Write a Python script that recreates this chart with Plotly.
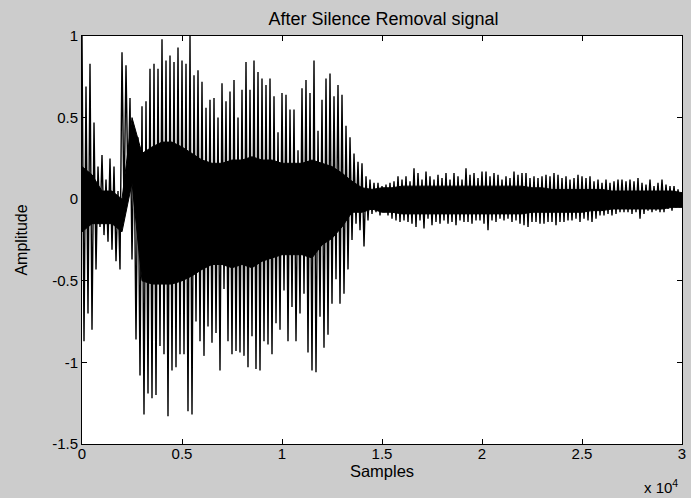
import plotly.graph_objects as go

# Peak amplitudes, one pair per 200-sample block
block_size = 200
upper_peaks = [
    1.00, 0.69, 0.83, 0.47, 0.20, 0.27, 0.12, 0.25, 0.20, 0.05,
    0.90, 0.82, 0.62, 0.40, 0.38, 0.57, 0.60, 0.80, 0.83, 0.80,
    0.98, 0.85, 0.88, 0.84, 0.93, 0.85, 0.83, 1.00, 0.76, 0.79,
    0.72, 0.56, 0.61, 0.62, 0.50, 0.71, 0.60, 0.66, 0.73, 0.50,
    0.67, 0.84, 0.67, 0.85, 0.78, 0.74, 0.70, 0.74, 0.63, 0.41,
    0.65, 0.64, 0.55, 0.55, 0.30, 0.68, 0.73, 0.65, 0.85, 0.42,
    0.61, 0.74, 0.77, 0.63, 0.70, 0.64, 0.45, 0.38, 0.28, 0.23,
    0.22, 0.14, 0.12, 0.10, 0.10, 0.08, 0.09, 0.10, 0.11, 0.14,
    0.12, 0.14, 0.11, 0.19, 0.16, 0.12, 0.17, 0.14, 0.12, 0.15,
    0.13, 0.16, 0.12, 0.16, 0.14, 0.12, 0.19, 0.15, 0.16, 0.13,
    0.17, 0.17, 0.14, 0.16, 0.15, 0.12, 0.14, 0.13, 0.17, 0.15,
    0.16, 0.16, 0.13, 0.14, 0.13, 0.14, 0.15, 0.14, 0.16, 0.15,
    0.13, 0.14, 0.12, 0.13, 0.15, 0.14, 0.13, 0.14, 0.11, 0.12,
    0.10, 0.12, 0.10, 0.11, 0.12, 0.12, 0.11, 0.12, 0.11, 0.13,
    0.10, 0.09, 0.12, 0.08, 0.10, 0.12, 0.09, 0.08, 0.08, 0.06,
]
lower_peaks = [
    -0.87, -0.70, -0.80, -0.43, -0.17, -0.22, -0.26, -0.31, -0.38, -0.43,
    -0.05, 0.05, -0.37, -0.86, -1.08, -1.32, -1.19, -1.22, -1.20, -0.90,
    -0.95, -1.33, -1.05, -1.03, -0.95, -0.95, -1.30, -1.32, -0.75, -0.87,
    -0.96, -0.78, -0.88, -0.82, -1.05, -0.55, -0.87, -0.95, -0.93, -0.94,
    -0.96, -1.03, -0.84, -1.04, -1.05, -0.87, -0.89, -0.95, -0.76, -0.80,
    -0.56, -0.87, -0.66, -0.87, -0.70, -0.58, -0.94, -1.05, -1.06, -0.72,
    -0.91, -0.83, -0.64, -0.49, -0.64, -0.58, -0.43, -0.25, -0.15, -0.19,
    -0.29, -0.13, -0.09, -0.08, -0.10, -0.08, -0.10, -0.12, -0.13, -0.14,
    -0.13, -0.14, -0.15, -0.17, -0.13, -0.18, -0.12, -0.16, -0.14, -0.15,
    -0.13, -0.15, -0.14, -0.16, -0.13, -0.14, -0.14, -0.15, -0.13, -0.13,
    -0.15, -0.19, -0.13, -0.14, -0.12, -0.13, -0.12, -0.14, -0.13, -0.15,
    -0.16, -0.17, -0.14, -0.14, -0.15, -0.15, -0.14, -0.14, -0.16, -0.14,
    -0.14, -0.13, -0.13, -0.12, -0.14, -0.12, -0.13, -0.14, -0.12, -0.10,
    -0.10, -0.09, -0.10, -0.09, -0.08, -0.08, -0.08, -0.09, -0.08, -0.12,
    -0.09, -0.07, -0.08, -0.07, -0.08, -0.08, -0.06, -0.07, -0.05, -0.05,
]

# Solid core of the waveform (dense black band), one pair per 500 samples
core_step = 500
core_upper = [
    0.20, 0.15, 0.05, 0.05, 0.00, 0.50, 0.28, 0.32, 0.35, 0.35,
    0.32, 0.28, 0.24, 0.22, 0.22, 0.24, 0.24, 0.26, 0.24, 0.24,
    0.22, 0.22, 0.22, 0.24, 0.22, 0.20, 0.16, 0.11, 0.07, 0.06,
    0.07, 0.07, 0.08, 0.08, 0.08, 0.08, 0.08, 0.08, 0.08, 0.08,
    0.08, 0.08, 0.08, 0.08, 0.08, 0.07, 0.07, 0.06, 0.06, 0.06,
    0.06, 0.06, 0.06, 0.05, 0.05, 0.05, 0.05, 0.05, 0.05, 0.05,
    0.04,
]
core_lower = [
    -0.20, -0.15, -0.15, -0.15, -0.20, 0.10, -0.50, -0.52, -0.52, -0.52,
    -0.50, -0.47, -0.43, -0.40, -0.40, -0.42, -0.40, -0.42, -0.38, -0.36,
    -0.34, -0.34, -0.34, -0.36, -0.28, -0.24, -0.17, -0.08, -0.08, -0.06,
    -0.08, -0.08, -0.09, -0.09, -0.09, -0.09, -0.09, -0.09, -0.09, -0.09,
    -0.09, -0.09, -0.09, -0.09, -0.09, -0.08, -0.08, -0.08, -0.08, -0.08,
    -0.08, -0.07, -0.07, -0.06, -0.06, -0.06, -0.06, -0.06, -0.06, -0.05,
    -0.05,
]

x_tick_vals = [0, 5000, 10000, 15000, 20000, 25000, 30000]
x_tick_text = ["0", "0.5", "1", "1.5", "2", "2.5", "3"]
y_tick_vals = [-1.5, -1, -0.5, 0, 0.5, 1]
y_tick_text = ["-1.5", "-1", "-0.5", "0", "0.5", "1"]

# Waveform as alternating upper/lower peaks
xs, ys = [], []
for i, (u, l) in enumerate(zip(upper_peaks, lower_peaks)):
    xs += [i * block_size, i * block_size + block_size / 2]
    ys += [u, l]

core_x = [i * core_step for i in range(len(core_upper))]

fig = go.Figure()
fig.add_trace(go.Scatter(x=core_x + core_x[::-1], y=core_upper + core_lower[::-1],
                         mode="lines", fill="toself", fillcolor="black",
                         line=dict(color="black", width=1),
                         showlegend=False, hoverinfo="skip"))
fig.add_trace(go.Scatter(x=xs, y=ys, mode="lines",
                         line=dict(color="black", width=1.4),
                         showlegend=False, hoverinfo="skip"))

font = "Liberation Sans, Arial, sans-serif"
axis_common = dict(showgrid=False, zeroline=False, showline=True,
                   linecolor="black", linewidth=1, mirror="allticks",
                   ticks="inside", ticklen=5, tickcolor="black",
                   ticklabeloverflow="allow",
                   tickfont=dict(family=font, size=15, color="black"))

fig.update_layout(
    width=691, height=498,
    paper_bgcolor="#cccccc", plot_bgcolor="white",
    margin=dict(l=82, r=5, t=36, b=54),
    title=dict(text="After Silence Removal signal", x=0.555, xanchor="center",
               y=0.963, yanchor="middle",
               font=dict(family=font, size=18, color="black")),
    xaxis=dict(range=[0, 30000], tickvals=x_tick_vals, ticktext=x_tick_text,
               ticklabelstandoff=-4,
               title=dict(text="Samples", standoff=2,
                          font=dict(family=font, size=16.5, color="black")),
               **axis_common),
    yaxis=dict(range=[-1.5, 1], tickvals=y_tick_vals, ticktext=y_tick_text,
               title=dict(text="Amplitude", standoff=20,
                          font=dict(family=font, size=16, color="black")),
               **axis_common),
    annotations=[dict(text="x 10<sup>4</sup>", xref="paper", yref="paper",
                      x=0.997, y=-0.075, xanchor="right", yanchor="top",
                      showarrow=False,
                      font=dict(family=font, size=15, color="black"))],
)

fig.write_html("out.html", config={"displayModeBar": False}, post_script=(
    "document.body.style.margin='0';"
    "document.body.style.overflow='hidden';"
    "document.body.style.background='#cccccc';"))
